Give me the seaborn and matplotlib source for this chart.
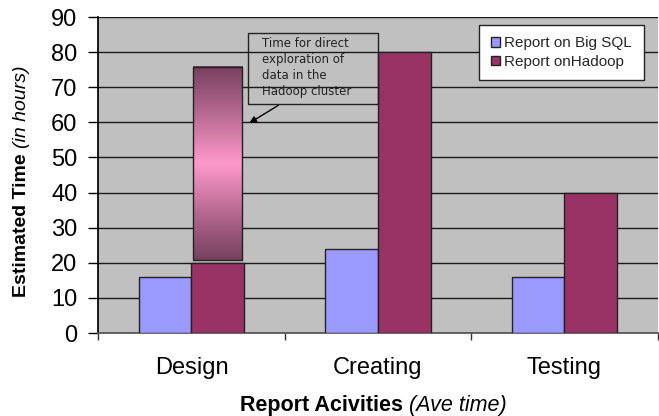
import numpy as np
import pandas as pd
import matplotlib
matplotlib.use("Agg")
import matplotlib.pyplot as plt
from matplotlib.colors import LinearSegmentedColormap
from matplotlib.patches import Rectangle
import seaborn as sns

# Data
activities = ["Design", "Creating", "Testing"]
series_names = ["Report on Big SQL", "Report onHadoop"]
big_sql_hours = [16, 24, 16]
hadoop_hours = [20, 80, 40]
# extra "direct exploration" band stacked on the Hadoop Design bar
exploration_low = 20.8
exploration_high = 75.8

sns.set_theme(style="white")
plt.rcParams["font.family"] = ["Liberation Sans", "DejaVu Sans"]

df = pd.DataFrame({
    "Activity": activities * 2,
    "Series": [series_names[0]] * 3 + [series_names[1]] * 3,
    "Hours": big_sql_hours + hadoop_hours,
})

fig = plt.figure(figsize=(6.59, 4.16), dpi=100)
ax = fig.add_axes([0.149, 0.1995, 0.849, 0.7595])
ax.set_facecolor("#C0C0C0")

sns.barplot(data=df, x="Activity", y="Hours", hue="Series", order=activities,
            hue_order=series_names, palette=["#9999FF", "#993366"],
            width=0.567, gap=0, edgecolor="#222222", linewidth=1,
            saturation=1, ax=ax, zorder=3)

# gradient band over the Design / Hadoop bar
hadoop_bars = ax.containers[1]
p = hadoop_bars[0]
x0 = p.get_x() + 0.01
x1 = p.get_x() + p.get_width() - 0.01
cmap = LinearSegmentedColormap.from_list("band", ["#77405F", "#B86A92", "#FF99CC", "#B86A92", "#77405F"])
grad = np.linspace(0, 1, 256).reshape(-1, 1)
ax.imshow(grad, extent=[x0, x1, exploration_low, exploration_high], aspect="auto",
          cmap=cmap, zorder=4, origin="lower")
ax.add_patch(Rectangle((x0, exploration_low), x1 - x0, exploration_high - exploration_low,
                       fill=False, edgecolor="#222222", linewidth=1, zorder=5))

ax.set_xlim(-0.5, 2.5)
ax.set_ylim(0, 90)
ax.set_yticks(range(0, 91, 10))
ax.yaxis.grid(True, color="#1a1a1a", linewidth=1)
ax.set_axisbelow(True)
for s in ["top", "right"]:
    ax.spines[s].set_visible(False)
ax.spines["left"].set_color("black")
ax.spines["bottom"].set_color("#555555")
ax.tick_params(axis="y", left=True, length=7, width=1, color="black", pad=8,
               labelsize=17, labelcolor="black")
ax.set_xticks([-0.5, 0.5, 1.5, 2.5], minor=True)
ax.tick_params(axis="x", which="minor", bottom=True, length=5, width=1, color="#333333")
ax.tick_params(axis="x", which="major", length=0, pad=17, labelsize=17, labelcolor="black")
ax.set_xlabel("")
ax.set_ylabel("")

# legend
leg = ax.legend(loc="upper right", bbox_to_anchor=(0.975, 0.975), fontsize=11,
                frameon=True, fancybox=False, edgecolor="#222222", facecolor="white",
                framealpha=1, handlelength=0.6, handleheight=0.6, handletextpad=0.3,
                borderpad=0.75, labelspacing=0.3, borderaxespad=0)
leg.get_frame().set_linewidth(1)
leg.set_zorder(6)

# callout
ax.add_patch(Rectangle((0.268, 0.725), 0.233, 0.224, transform=ax.transAxes,
                       fill=False, edgecolor="#222222", linewidth=1, zorder=6))
ax.text(0.293, 0.937, "Time for direct\nexploration of\ndata in the\nHadoop cluster",
        transform=ax.transAxes, ha="left", va="top", fontsize=8.5, linespacing=1.3,
        family="DejaVu Sans", color="#222222", zorder=7)
ax.annotate("", xy=(0.266, 0.66), xytext=(0.326, 0.725), xycoords="axes fraction",
            arrowprops=dict(arrowstyle="-|>", color="black", lw=1, mutation_scale=10), zorder=7)

# axis titles with mixed styles
yb = fig.text(0.033, 1 - 297 / 416, "Estimated Time", rotation=90, ha="center", va="bottom",
              fontsize=14, fontweight="bold", color="black")
fig.canvas.draw()
ax.annotate("(in hours)", xy=(0.5, 1), xycoords=yb, xytext=(0, 4), textcoords="offset points",
            rotation=90, ha="center", va="bottom", fontsize=14, fontstyle="italic", color="black",
            annotation_clip=False)
xb = fig.text(240 / 659, 1 - 405 / 416, "Report Acivities", ha="left", va="center",
              fontsize=15.5, fontweight="bold", color="black")
ax.annotate("(Ave time)", xy=(1, 0.5), xycoords=xb, xytext=(4, 0), textcoords="offset points",
            ha="left", va="center", fontsize=15.5, fontstyle="italic", color="black",
            annotation_clip=False)

fig.savefig("out.png", dpi=100)
